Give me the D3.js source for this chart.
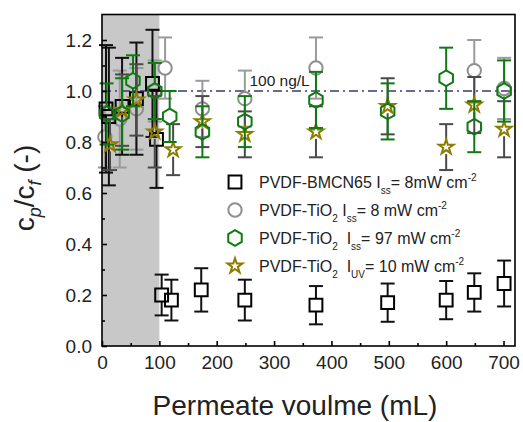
<!DOCTYPE html>
<html>
<head>
<meta charset="utf-8">
<script src="https://cdn.jsdelivr.net/npm/d3@7"></script>
<style>
body{margin:0;background:#fff;}
text{font-family:"Liberation Sans",Arial,sans-serif;}
</style>
</head>
<body>
<div id="chart"></div>
<script>
// permeate volume (mL), c_p/c_f and error for each membrane
var bmcnX   = [7, 12, 35, 60, 88, 95, 104, 121, 173, 249, 373, 498, 600, 649, 701];
var bmcnY   = [0.93, 0.90, 0.94, 0.97, 1.03, 0.81, 0.20, 0.18, 0.22, 0.18, 0.16, 0.17, 0.18, 0.21, 0.245];
var bmcnErr = [0.25, 0.27, 0.19, 0.22, 0.21, 0.19, 0.08, 0.08, 0.085, 0.08, 0.075, 0.075, 0.075, 0.075, 0.09];

var tio8X   = [5, 31, 60, 92, 110, 175, 249, 373, 649, 701];
var tio8Y   = [0.82, 0.89, 0.93, 1.00, 1.09, 0.93, 0.97, 1.09, 1.08, 1.01];
var tio8Err = [0.12, 0.19, 0.16, 0.12, 0.12, 0.11, 0.11, 0.12, 0.12, 0.12];

var tio97X   = [8, 35, 54, 92, 118, 175, 249, 373, 498, 600, 649, 701];
var tio97Y   = [0.91, 0.91, 1.04, 1.00, 0.90, 0.84, 0.88, 0.965, 0.92, 1.05, 0.86, 1.00];
var tio97Err = [0.12, 0.14, 0.10, 0.11, 0.10, 0.10, 0.10, 0.11, 0.11, 0.12, 0.10, 0.12];

var uvX   = [14, 35, 60, 92, 124, 175, 249, 373, 498, 600, 649, 701];
var uvY   = [0.79, 0.925, 0.965, 0.84, 0.77, 0.88, 0.83, 0.84, 0.94, 0.78, 0.945, 0.85];
var uvErr = [0.10, 0.14, 0.14, 0.14, 0.10, 0.10, 0.09, 0.10, 0.11, 0.09, 0.11, 0.11];

var xTicks = [0, 100, 200, 300, 400, 500, 600, 700];
var yTicks = [0, 0.2, 0.4, 0.6, 0.8, 1.0, 1.2];
var limitY = 1.0;
var shadeEnd = 100;

var svg = d3.select("#chart").append("svg")
	.attr("width", 523)
	.attr("height", 422);

var x = d3.scaleLinear().domain([0, 720]).range([102, 515]);
var y = d3.scaleLinear().domain([0, 1.3]).range([346, 14.5]);

// grey shaded start-up region
svg.append("rect")
	.attr("x", x(0)).attr("y", y(1.3))
	.attr("width", x(shadeEnd) - x(0))
	.attr("height", y(0) - y(1.3))
	.attr("fill", "#c8c8c8");

// 100 ng/L reference line
svg.append("line")
	.attr("x1", x(0)).attr("x2", x(720))
	.attr("y1", y(limitY)).attr("y2", y(limitY))
	.attr("stroke", "#3a3a70").attr("stroke-width", 1.5)
	.attr("stroke-dasharray", "9,4,2,4");
svg.append("text")
	.attr("x", x(257)).attr("y", y(limitY) - 5)
	.attr("font-size", 15.5).attr("fill", "#222").text("100 ng/L");

function hexPath(r) {
	var p = [];
	for (var i = 0; i < 6; i++) {
		var a = Math.PI / 3 * i - Math.PI / 2;
		p.push([r * Math.cos(a), r * Math.sin(a)]);
	}
	return "M" + p.map(function(d){return d.join(",");}).join("L") + "Z";
}
var shapes = {
	square: {path: d3.symbol().type(d3.symbolSquare).size(165)(), half: 6.5},
	circle: {path: d3.symbol().type(d3.symbolCircle).size(140)(), half: 6.7},
	hex:    {path: hexPath(7.8), half: 7.8},
	star:   {path: d3.symbol().type(d3.symbolStar).size(68)(), half: 7}
};

var series = [
	{xs: tio8X, ys: tio8Y, es: tio8Err, shape: "circle", color: "#8f8f8f", bar: "#9a9a9a"},
	{xs: bmcnX, ys: bmcnY, es: bmcnErr, shape: "square", color: "#000", bar: "#111"},
	{xs: uvX, ys: uvY, es: uvErr, shape: "star", color: "#8c7d00", bar: "#4a4a4a"},
	{xs: tio97X, ys: tio97Y, es: tio97Err, shape: "hex", color: "#0f7a12", bar: "#0f7a12"}
];

series.forEach(function(s) {
	var data = s.xs.map(function(v, i){return {x: v, y: s.ys[i], e: s.es[i]};});
	var half = shapes[s.shape].half;
	var g = svg.append("g");
	var bars = g.selectAll("g.bar").data(data).enter().append("g")
		.attr("stroke", s.bar).attr("stroke-width", 2).attr("fill", "none");
	bars.append("line")
		.attr("x1", function(d){return x(d.x);}).attr("x2", function(d){return x(d.x);})
		.attr("y1", function(d){return y(d.y + d.e);})
		.attr("y2", function(d){return Math.max(y(d.y) - half, y(d.y + d.e));});
	bars.append("line")
		.attr("x1", function(d){return x(d.x);}).attr("x2", function(d){return x(d.x);})
		.attr("y1", function(d){return y(d.y - d.e);})
		.attr("y2", function(d){return Math.min(y(d.y) + half, y(d.y - d.e));});
	[1, -1].forEach(function(sg) {
		bars.append("line")
			.attr("x1", function(d){return x(d.x) - 7;}).attr("x2", function(d){return x(d.x) + 7;})
			.attr("y1", function(d){return y(d.y + sg * d.e);})
			.attr("y2", function(d){return y(d.y + sg * d.e);});
	});
	g.selectAll("path").data(data).enter().append("path")
		.attr("d", shapes[s.shape].path)
		.attr("transform", function(d){return "translate(" + x(d.x) + "," + y(d.y) + ")";})
		.attr("fill", "none").attr("stroke", s.color).attr("stroke-width", 2);
});

// frame
svg.append("rect")
	.attr("x", x(0)).attr("y", y(1.3))
	.attr("width", x(720) - x(0)).attr("height", y(0) - y(1.3))
	.attr("fill", "none").attr("stroke", "#000").attr("stroke-width", 1.6);

// axes with inward ticks
svg.append("g").attr("transform", "translate(0," + y(0) + ")")
	.call(d3.axisBottom(x).tickValues(xTicks).tickSizeInner(-5).tickSizeOuter(0).tickPadding(10));
svg.append("g").attr("transform", "translate(0," + y(0) + ")")
	.call(d3.axisBottom(x).tickValues(d3.range(50, 720, 100)).tickSizeInner(-3).tickSizeOuter(0).tickFormat(""));
svg.append("g").attr("transform", "translate(" + x(0) + ",0)")
	.call(d3.axisLeft(y).tickValues(yTicks).tickSizeInner(-5).tickSizeOuter(0).tickPadding(10)
		.tickFormat(d3.format(".1f")));
svg.append("g").attr("transform", "translate(" + x(0) + ",0)")
	.call(d3.axisLeft(y).tickValues([0.1, 0.3, 0.5, 0.7, 0.9, 1.1]).tickSizeInner(-3).tickSizeOuter(0).tickFormat(""));
svg.selectAll(".domain").remove();
svg.selectAll(".tick line").attr("stroke", "#000").attr("stroke-width", 1.6);
svg.selectAll(".tick text").attr("font-size", 19).attr("fill", "#222")
	.style("font-family", "'Liberation Sans',Arial,sans-serif");

// axis titles
svg.append("text")
	.attr("x", 295).attr("y", 415)
	.attr("text-anchor", "middle").attr("font-size", 28).attr("fill", "#222")
	.text("Permeate voulme (mL)");
var yl = svg.append("text")
	.attr("transform", "translate(34,188) rotate(-90)")
	.attr("text-anchor", "middle").attr("font-size", 28).attr("fill", "#222");
yl.append("tspan").text("c");
yl.append("tspan").attr("font-size", 18).attr("dy", 7).attr("font-style", "italic").text("p");
yl.append("tspan").attr("dy", -7).text("/c");
yl.append("tspan").attr("font-size", 18).attr("dy", 7).attr("font-style", "italic").text("f");
yl.append("tspan").attr("dy", -7).text(" (-)");

// legend
var legendRows = [
	{shape: "square", color: "#000", parts: [["PVDF-BMCN65 I", 0], ["ss", 1], ["= 8mW cm", 0], ["-2", -1]]},
	{shape: "circle", color: "#8f8f8f", parts: [["PVDF-TiO", 0], ["2", 1], [" I", 0], ["ss", 1], ["= 8 mW cm", 0], ["-2", -1]]},
	{shape: "hex", color: "#0f7a12", parts: [["PVDF-TiO", 0], ["2", 1], ["  I", 0], ["ss", 1], ["= 97 mW cm", 0], ["-2", -1]]},
	{shape: "star", color: "#8c7d00", parts: [["PVDF-TiO", 0], ["2", 1], ["  I", 0], ["UV", 1], ["= 10 mW cm", 0], ["-2", -1]]}
];
legendRows.forEach(function(r, i) {
	var cy = 182 + i * 28;
	svg.append("path").attr("d", shapes[r.shape].path)
		.attr("transform", "translate(235," + cy + ")")
		.attr("fill", "none").attr("stroke", r.color).attr("stroke-width", 2);
	var t = svg.append("text").attr("x", 259).attr("y", cy + 6)
		.attr("font-size", 16).attr("fill", "#222").style("white-space", "pre");
	var shift = 0;
	r.parts.forEach(function(p) {
		var off = p[1] === 1 ? 6 : (p[1] === -1 ? -7 : 0);
		var ts = t.append("tspan").attr("dy", off - shift).text(p[0]);
		shift = off;
		if (p[1] !== 0) ts.attr("font-size", 10);
	});
});
</script>
</body>
</html>
